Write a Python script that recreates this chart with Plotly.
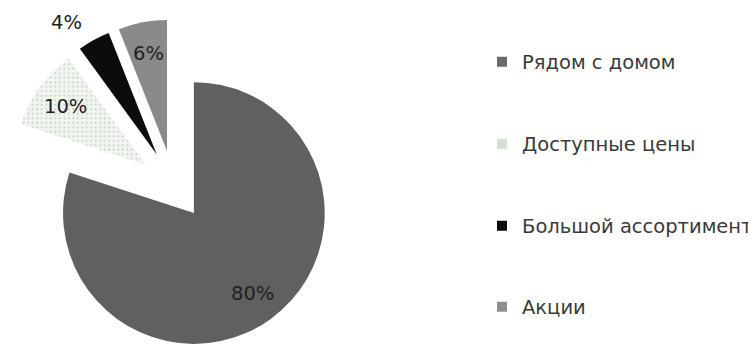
import math
import plotly.graph_objects as go

categories = ["Рядом с домом", "Доступные цены", "Большой ассортимент", "Акции"]
values = [80, 10, 4, 6]
slice_colors = ["#606060", "#f0f5f0", "#0c0c0c", "#8a8a8a"]
legend_colors = ["#6a6a6a", "#d6ded5", "#0c0c0c", "#8e8e8e"]
label_outside = [False, False, True, False]

W, H = 756, 345
PAGE_OFF = 8          # default page margin of the html body
FONT = "DejaVu Sans"
TXT = "#3a3a3a"
LBL = "#222222"
FS = 19.5

# pie geometry (target in screen px)
PULL = 0.265
cx = 173.5 - PAGE_OFF
cy = 185 - PAGE_OFF
R = cx / (1 + PULL)
half = R * (1 + PULL)
dom_x = [max(0, (cx - half) / W), min(1, (cx + half) / W)]
dom_y = [max(0, 1 - (cy + half) / H), min(1, 1 - (cy - half) / H)]

fig = go.Figure()
fig.add_trace(go.Pie(
    labels=categories,
    values=values,
    sort=False,
    direction="clockwise",
    rotation=0,
    pull=[PULL] * len(values),
    textinfo="none",
    marker=dict(
        colors=slice_colors,
        line=dict(width=0),
        pattern=dict(shape=["", ".", "", ""], fgcolor="#8a8a8a",
                     fillmode="overlay", size=4.5, solidity=0.12),
    ),
    domain=dict(x=dom_x, y=dom_y),
    showlegend=False,
    hoverinfo="label+percent",
))

# percentage labels placed along each slice's mid-angle
total = sum(values)
cum = 0
annotations = []
for v, outside in zip(values, label_outside):
    mid = 2 * math.pi * (cum + v / 2) / total
    cum += v
    s, c = math.sin(mid), math.cos(mid)
    if outside:
        dist = R * PULL + R * 1.15
        xa = "right" if s < 0 else "left"
        ya = "middle"
    else:
        dist = R * PULL + R * 0.76
        xa, ya = "center", "middle"
    px = cx + dist * s
    py = cy - dist * c
    annotations.append(dict(
        x=px / W, y=1 - py / H, xref="paper", yref="paper",
        text=f"{round(100 * v / total)}%", showarrow=False,
        xanchor=xa, yanchor=ya,
        font=dict(family=FONT, size=FS, color=LBL),
    ))

legend_y = [62, 144, 226, 307]
legend_names = ["legend", "legend2", "legend3", "legend4"]
for name, col, lg in zip(categories, legend_colors, legend_names):
    fig.add_trace(go.Scatter(
        x=[None], y=[None], mode="markers", name=name,
        marker=dict(symbol="square", size=10, color=col),
        legend=lg, showlegend=True,
    ))

legend_common = dict(
    x=(523 - 41 - PAGE_OFF) / W, xanchor="left", yanchor="middle",
    font=dict(family=FONT, size=FS, color=TXT),
    bgcolor="rgba(0,0,0,0)", borderwidth=0,
)
layout_legends = {lg: dict(legend_common, y=1 - (ly - PAGE_OFF) / H)
                  for lg, ly in zip(legend_names, legend_y)}

fig.update_layout(
    width=W, height=H,
    margin=dict(l=0, r=0, t=0, b=0, autoexpand=False),
    paper_bgcolor="white", plot_bgcolor="white",
    xaxis=dict(visible=False), yaxis=dict(visible=False),
    showlegend=True,
    annotations=annotations,
    **layout_legends,
)

fig.write_html("out.html")
